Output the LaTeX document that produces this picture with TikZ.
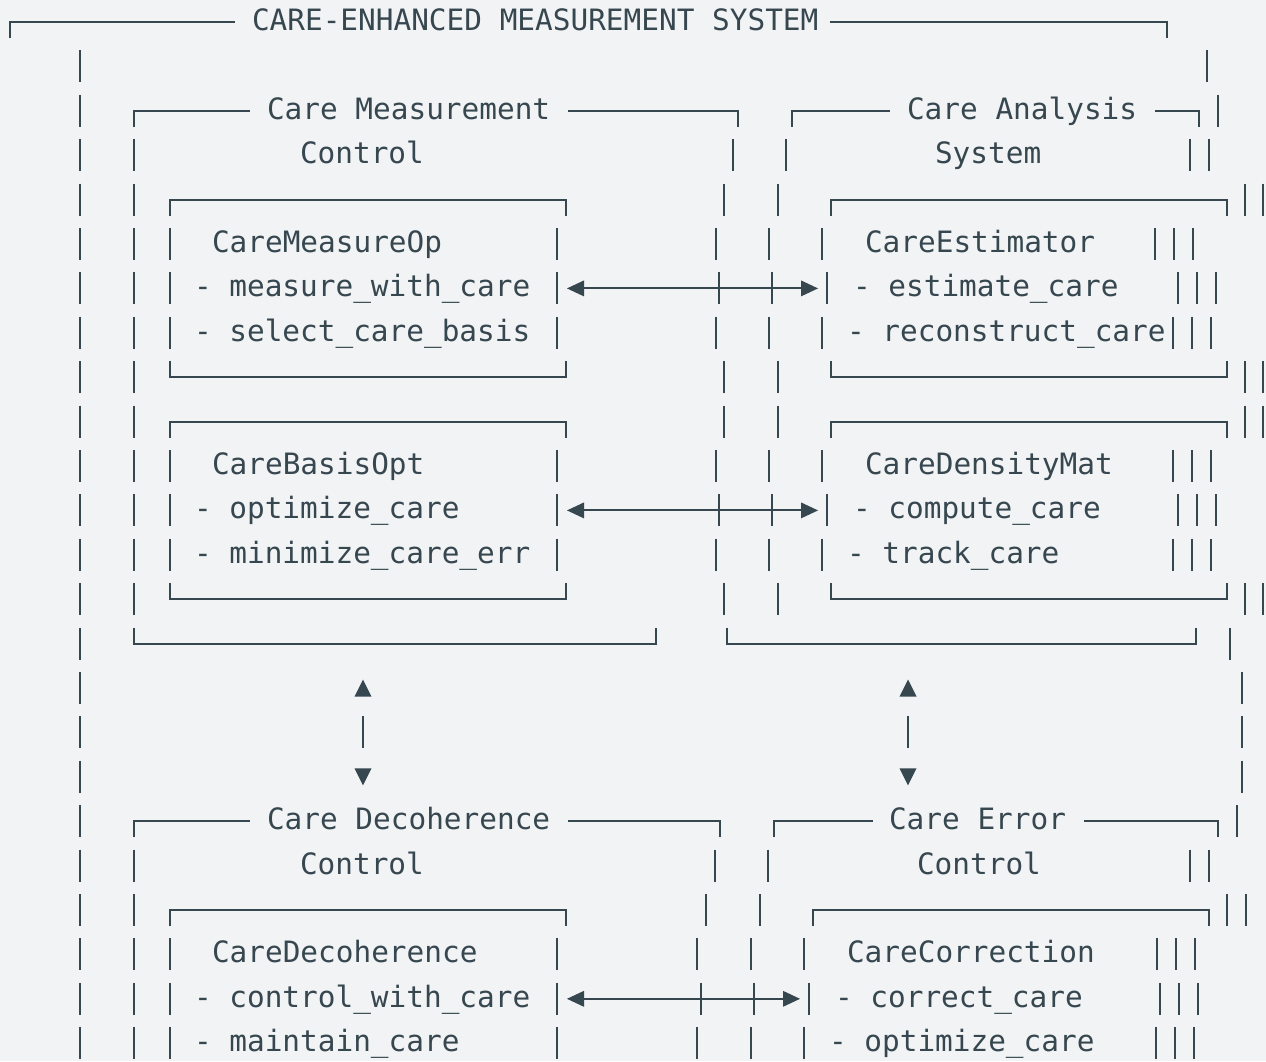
\documentclass[tikz,border=0pt]{standalone}
\usepackage{fontspec}
\setmonofont{DejaVu Sans Mono}
\definecolor{ink}{HTML}{37474F}
\definecolor{bg}{HTML}{F1F3F5}
% row r: stroke y = 22+44.4r, text baseline = 30.5+44.4r
\newcommand\vbars[2]{\foreach \xx in {#2}{\draw[ln] (\xx,{22+44.4*#1-16}) -- (\xx,{22+44.4*#1+16});}}
\newcommand\boxtop[3]{\draw[ln] (#2,{22+44.4*#1+16}) -- (#2,{22+44.4*#1}) -- (#3,{22+44.4*#1}) -- (#3,{22+44.4*#1+16});}
\newcommand\boxbot[3]{\draw[ln] (#2,{22+44.4*#1-16}) -- (#2,{22+44.4*#1}) -- (#3,{22+44.4*#1}) -- (#3,{22+44.4*#1-16});}
\newcommand\ltop[3]{\draw[ln] (#2,{22+44.4*#1+16}) -- (#2,{22+44.4*#1}) -- (#3,{22+44.4*#1});}
\newcommand\rtop[3]{\draw[ln] (#2,{22+44.4*#1}) -- (#3,{22+44.4*#1}) -- (#3,{22+44.4*#1+16});}
\newcommand\txt[4]{\node[txt] (#1) at (#3,{30.5+44.4*#2}) {#4};}
% double arrow: name, row, left tip, right tip
\newcommand\darrow[4]{%
  \coordinate (#1L) at (#3,{22+44.4*#2});
  \coordinate (#1R) at (#4,{22+44.4*#2});
  \draw[ln] ([xshift=16pt]#1L) -- ([xshift=-16pt]#1R);
  \fill[ink] (#1L) -- ++(17,-8) -- ++(0,16) -- cycle;
  \fill[ink] (#1R) -- ++(-17,-8) -- ++(0,16) -- cycle;}
\newcommand\uptri[2]{\fill[ink] (#1,{22+44.4*#2-8.5}) -- ++(8.5,17) -- ++(-17,0) -- cycle;}
\newcommand\dntri[2]{\fill[ink] (#1,{22+44.4*#2+8.5}) -- ++(8.5,-17) -- ++(-17,0) -- cycle;}
\begin{document}
\begin{tikzpicture}[x=1pt,y=-1pt,
  ln/.style={draw=ink,line width=2.1pt},
  txt/.style={anchor=base west,inner sep=0pt,outer sep=0pt,text=ink,
    font=\ttfamily\fontsize{29.4}{35}\selectfont}]
\fill[bg] (0,0) rectangle (1266,1061);
\useasboundingbox (0,0) rectangle (1266,1061);
% row 0
\ltop{0}{10}{235}
\txt{title}{0}{252}{CARE-ENHANCED MEASUREMENT SYSTEM}
\rtop{0}{830}{1167}
% row 1
\vbars{1}{80,1207}
% row 2
\vbars{2}{80,1218}
\ltop{2}{134}{250}
\txt{cmc1}{2}{267}{Care Measurement}
\rtop{2}{568}{738}
\ltop{2}{792}{890}
\txt{cas1}{2}{907}{Care Analysis}
\rtop{2}{1155}{1199}
% row 3
\vbars{3}{80,134,733,786,1190,1209}
\txt{cmc2}{3}{300}{Control}
\txt{cas2}{3}{935}{System}
% row 4
\vbars{4}{80,134,724,778,1245,1263}
\boxtop{4}{170}{566}
\boxtop{4}{831}{1227}
% row 5
\vbars{5}{80,134,170,557,716,769,822,1155,1174,1193}
\txt{op}{5}{212}{CareMeasureOp}
\txt{est}{5}{865}{CareEstimator}
% row 6
\vbars{6}{80,134,170,557,719,772,827,1178,1197,1216}
\txt{op1}{6}{194}{- measure\_with\_care}
\txt{est1}{6}{853}{- estimate\_care}
\darrow{a1}{6}{567}{818}
% row 7
\vbars{7}{80,134,170,557,716,769,822,1173,1192,1211}
\txt{op2}{7}{194}{- select\_care\_basis}
\txt{est2}{7}{847}{- reconstruct\_care}
% row 8
\vbars{8}{80,134,724,778,1245,1263}
\boxbot{8}{170}{566}
\boxbot{8}{831}{1227}
% row 9
\vbars{9}{80,134,724,778,1245,1263}
\boxtop{9}{170}{566}
\boxtop{9}{831}{1227}
% row 10
\vbars{10}{80,134,170,557,716,769,822,1173,1192,1211}
\txt{bo}{10}{212}{CareBasisOpt}
\txt{dm}{10}{865}{CareDensityMat}
% row 11
\vbars{11}{80,134,170,557,719,772,827,1178,1197,1216}
\txt{bo1}{11}{194}{- optimize\_care}
\txt{dm1}{11}{853}{- compute\_care}
\darrow{a2}{11}{567}{818}
% row 12
\vbars{12}{80,134,170,557,716,769,822,1173,1192,1211}
\txt{bo2}{12}{194}{- minimize\_care\_err}
\txt{dm2}{12}{847}{- track\_care}
% row 13
\vbars{13}{80,134,724,778,1245,1263}
\boxbot{13}{170}{566}
\boxbot{13}{831}{1227}
% row 14
\vbars{14}{80,1230}
\boxbot{14}{134}{656}
\boxbot{14}{727}{1196}
% rows 15-17
\vbars{15}{80,1242}
\uptri{363}{15}
\uptri{908}{15}
\vbars{16}{80,363,908,1242}
\vbars{17}{80,1242}
\dntri{363}{17}
\dntri{908}{17}
% row 18
\vbars{18}{80,1237}
\ltop{18}{134}{250}
\txt{cdc1}{18}{267}{Care Decoherence}
\rtop{18}{568}{720}
\ltop{18}{774}{873}
\txt{cec1}{18}{889}{Care Error}
\rtop{18}{1084}{1218}
% row 19
\vbars{19}{80,134,715,768,1190,1209}
\txt{cdc2}{19}{300}{Control}
\txt{cec2}{19}{917}{Control}
% row 20
\vbars{20}{80,134,706,760,1227,1246}
\boxtop{20}{170}{566}
\boxtop{20}{813}{1209}
% row 21
\vbars{21}{80,134,170,557,697,751,804,1157,1176,1195}
\txt{dc}{21}{212}{CareDecoherence}
\txt{cc}{21}{847}{CareCorrection}
% row 22
\vbars{22}{80,134,170,557,701,754,809,1160,1179,1198}
\txt{dc1}{22}{194}{- control\_with\_care}
\txt{cc1}{22}{835}{- correct\_care}
\darrow{a3}{22}{567}{800}
% row 23
\vbars{23}{80,134,170,557,697,751,804,1156,1175,1194}
\txt{dc2}{23}{194}{- maintain\_care}
\txt{cc2}{23}{829}{- optimize\_care}
\end{tikzpicture}
\end{document}
